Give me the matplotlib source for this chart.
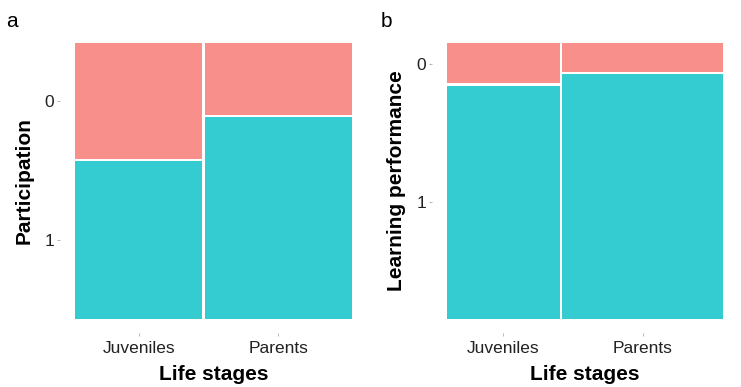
"""Two mosaic plots: participation and learning performance by life stage."""

import matplotlib

matplotlib.use("Agg")
import matplotlib.pyplot as plt

plt.rcParams["font.family"] = ["Liberation Sans", "DejaVu Sans"]

# categories
stages = ["Juveniles", "Parents"]
levels = ["0", "1"]

# panel a: column width share and share of level "0" in each column
participation_width = [0.464, 0.536]
participation_zero = [0.425, 0.264]

# panel b
learning_width = [0.413, 0.587]
learning_zero = [0.151, 0.110]

PINK = "#F98F8A"
TEAL = "#34CCD1"
GAP = 0.008


def draw_mosaic(ax, widths, zero_share, ylabel):
    """Draw a 2x2 mosaic: columns are life stages, stacks are 0 (top) / 1."""
    left = 0.0
    centers = []
    for i, (w, z) in enumerate(zip(widths, zero_share)):
        x0 = left + (GAP / 2 if i > 0 else 0)
        x1 = left + w - (GAP / 2 if i < len(widths) - 1 else 0)
        # level 0 on top (y axis inverted), level 1 below
        ax.bar(x0, z - GAP / 2, width=x1 - x0, bottom=0, align="edge",
               color=PINK, linewidth=0)
        ax.bar(x0, 1 - z - GAP / 2, width=x1 - x0, bottom=z + GAP / 2, align="edge",
               color=TEAL, linewidth=0)
        centers.append((x0 + x1) / 2)
        left += w
    ax.set_xlim(0, 1)
    ax.set_ylim(1, 0)
    ax.set_xticks(centers)
    ax.set_xticklabels(stages)
    # y ticks sit at the middle of the first column's segments
    z0 = zero_share[0]
    ax.set_yticks([z0 / 2, (1 + z0) / 2])
    ax.set_yticklabels(levels)
    ax.tick_params(length=2, width=0.5, color="#999999", labelsize=12.5,
                   labelcolor="#222222")
    ax.tick_params(axis="x", pad=4)
    ax.tick_params(axis="y", pad=2)
    for s in ax.spines.values():
        s.set_visible(False)
    # the ggplot panel is a bit larger than the tiles, so ticks sit apart
    ax.spines["bottom"].set_position(("outward", 10))
    ax.spines["left"].set_position(("outward", 10.8))
    ax.set_xlabel("Life stages", fontsize=15, fontweight="bold", labelpad=6)
    ax.set_ylabel(ylabel, fontsize=15, fontweight="bold", labelpad=8)


fig = plt.figure(figsize=(7.41, 3.87), dpi=100)
ax_a = fig.add_axes([0.1012, 0.1757, 0.3738, 0.714])
ax_b = fig.add_axes([0.6032, 0.1757, 0.3729, 0.714])

draw_mosaic(ax_a, participation_width, participation_zero, "Participation")
draw_mosaic(ax_b, learning_width, learning_zero, "Learning performance")

fig.text(0.008, 0.97, "a", fontsize=15, va="top")
fig.text(0.514, 0.97, "b", fontsize=15, va="top")

fig.savefig("out.png", dpi=100)
